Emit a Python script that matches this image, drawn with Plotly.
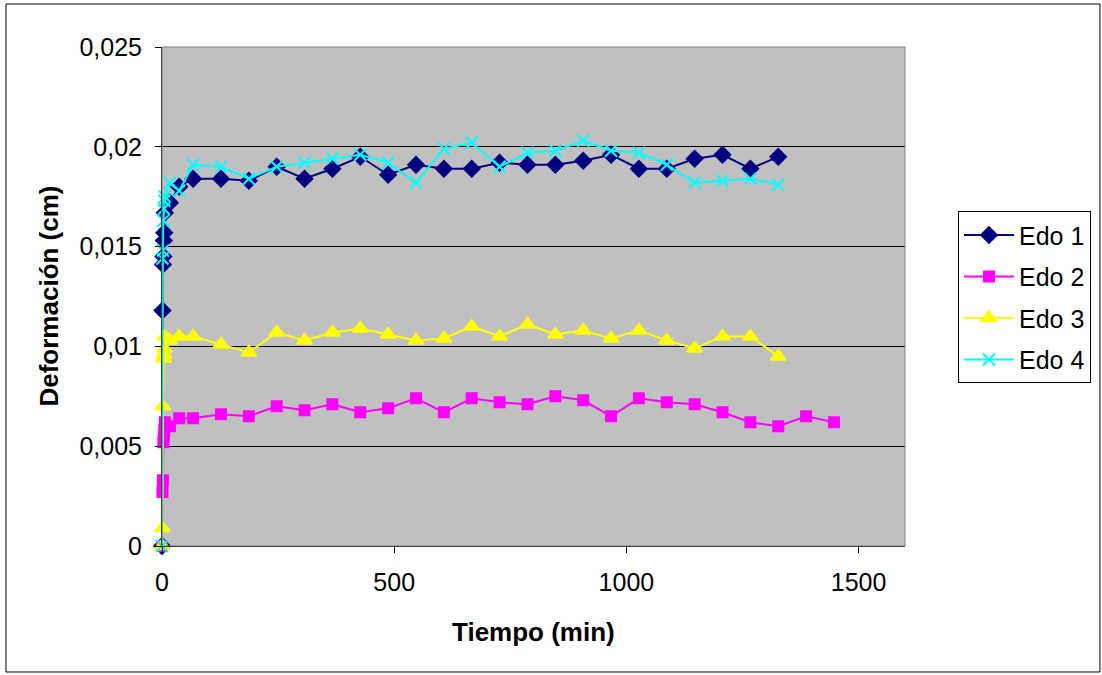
import plotly.graph_objects as go

# time (min)
t_early = [0, 1, 2, 3, 4, 5, 6, 17, 37]
t_main = [67, 127, 187, 247, 307, 367, 427, 487, 547, 607, 667, 727, 787, 847,
          907, 967, 1027, 1087, 1147, 1207, 1267, 1327]
t_edo2_extra = [1387, 1447]

edo1_early = [0, 0.0118, 0.0141, 0.0145, 0.0153, 0.0157, 0.0167, 0.0172, 0.0180]
edo1_main = [0.0184, 0.0184, 0.0183, 0.0190, 0.0184, 0.0189, 0.0195, 0.0186, 0.0191,
             0.0189, 0.0189, 0.0192, 0.0191, 0.0191, 0.0193, 0.0196, 0.0189, 0.0189,
             0.0194, 0.0196, 0.0189, 0.0195]

edo2_early = [0, 0.0027, 0.0033, 0.0052, 0.0055, 0.0058, 0.0062, 0.0060, 0.0064]
edo2_main = [0.0064, 0.0066, 0.0065, 0.0070, 0.0068, 0.0071, 0.0067, 0.0069, 0.0074,
             0.0067, 0.0074, 0.0072, 0.0071, 0.0075, 0.0073, 0.0065, 0.0074, 0.0072,
             0.0071, 0.0067, 0.0062, 0.0060, 0.0065, 0.0062]

edo3_early = [0, 0.0009, 0.0070, 0.0094, 0.0096, 0.0099, 0.0105, 0.0103, 0.0105]
edo3_main = [0.0105, 0.0101, 0.0097, 0.0107, 0.0103, 0.0107, 0.0109, 0.0106, 0.0103,
             0.0104, 0.0110, 0.0105, 0.0111, 0.0106, 0.0108, 0.0104, 0.0108, 0.0103,
             0.0099, 0.0105, 0.0105, 0.0095]

edo4_early = [0, 0.0144, 0.0148, 0.0163, 0.0169, 0.0173, 0.0175, 0.0182, 0.0178]
edo4_main = [0.0191, 0.0190, 0.0184, 0.0190, 0.0192, 0.0194, 0.0196, 0.0192, 0.0182,
             0.0199, 0.0202, 0.0190, 0.0197, 0.0198, 0.0203, 0.0198, 0.0197, 0.0191,
             0.0182, 0.0183, 0.0184, 0.0181]

y_ticks = [0, 0.005, 0.01, 0.015, 0.02, 0.025]
y_tick_labels = ["0", "0,005", "0,01", "0,015", "0,02", "0,025"]
x_ticks = [0, 500, 1000, 1500]
x_tick_labels = ["0", "500", "1000", "1500"]

series = [
    ("Edo 1", t_early + t_main, edo1_early + edo1_main, "#000080", "diamond", 12),
    ("Edo 2", t_early + t_main + t_edo2_extra, edo2_early + edo2_main, "#FF00FF", "square", 10),
    ("Edo 3", t_early + t_main, edo3_early + edo3_main, "#FFFF00", "triangle-up", 13),
    ("Edo 4", t_early + t_main, edo4_early + edo4_main, "#00FFFF", "x-thin", 12),
]

fig = go.Figure()
for name, x, y, col, sym, size in series:
    fig.add_trace(go.Scatter(
        x=x, y=y, name=name, mode="lines+markers", legendgroup=name,
        line=dict(color=col, width=2),
        marker=dict(symbol=sym, size=size, color=col,
                    line=dict(color=col, width=2)),
        cliponaxis=False,
    ))

font = "Liberation Sans, Arial, sans-serif"
fig.update_layout(
    width=1102, height=675,
    margin=dict(l=162, r=197, t=47, b=129, autoexpand=False),
    paper_bgcolor="white", plot_bgcolor="#C0C0C0",
    font=dict(family=font, size=25, color="black"),
    showlegend=True,
    legend=dict(x=1.0713, y=0.671, xanchor="left", yanchor="top",
                bgcolor="white", bordercolor="black", borderwidth=1,
                font=dict(size=25), itemwidth=50, tracegroupgap=6),
    xaxis=dict(range=[0, 1600], tickvals=x_ticks, ticktext=x_tick_labels,
               showgrid=False, zeroline=False, ticks="outside", ticklen=6,
               tickcolor="black", showline=True, linecolor="black", linewidth=1,
               ticklabelstandoff=8),
    yaxis=dict(range=[0, 0.025], tickvals=y_ticks, ticktext=y_tick_labels,
               showgrid=True, gridcolor="black", gridwidth=1, zeroline=False,
               ticks="outside", ticklen=6, tickcolor="black",
               showline=True, linecolor="black", linewidth=1,
               ticklabelstandoff=8),
    shapes=[
        dict(type="rect", xref="paper", yref="paper", x0=0, x1=1, y0=0, y1=1,
             line=dict(color="#808080", width=1), layer="above"),
        dict(type="rect", xref="paper", yref="paper", x0=-0.2100, x1=1.2624,
             y0=-0.2525, y1=1.0862, line=dict(color="black", width=1)),
    ],
    annotations=[
        dict(text="<b>Deformación (cm)</b>", xref="paper", yref="paper",
             x=-0.1534, y=0.5, xanchor="center", yanchor="middle",
             textangle=-90, showarrow=False, font=dict(size=26)),
        dict(text="<b>Tiempo (min)</b>", xref="paper", yref="paper",
             x=0.5, y=-0.172, xanchor="center", yanchor="middle",
             showarrow=False, font=dict(size=26)),
    ],
)

fig.write_html("out.html", config={"displayModeBar": False},
               post_script="document.body.style.margin='0px';")
